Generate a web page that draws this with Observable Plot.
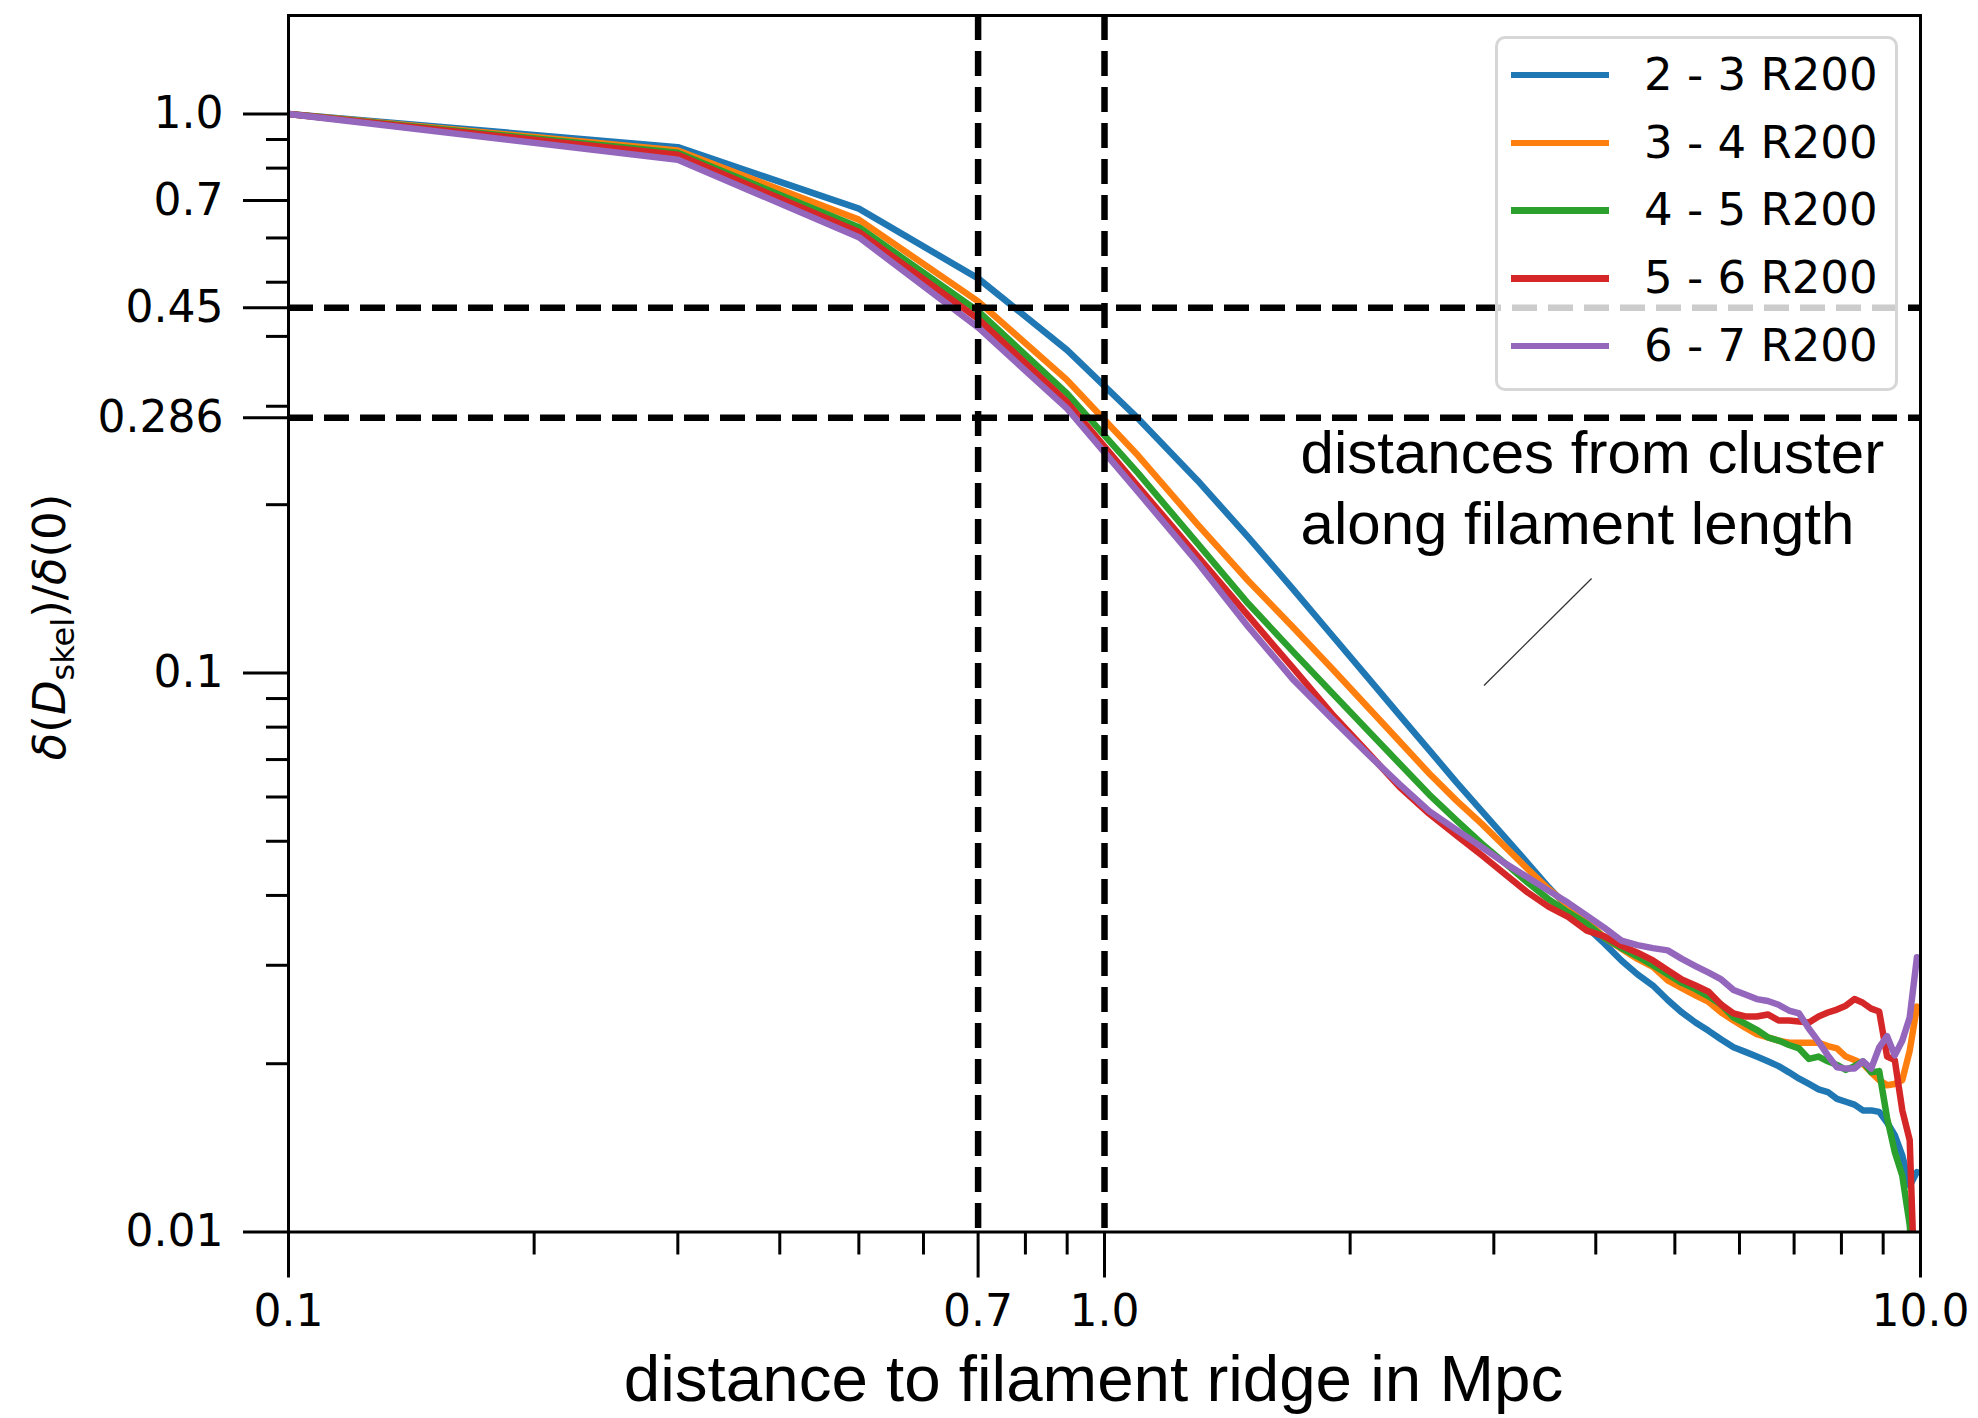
<!DOCTYPE html>
<html><head><meta charset="utf-8">
<script src="https://cdn.jsdelivr.net/npm/d3@7"></script>
<script src="https://cdn.jsdelivr.net/npm/@observablehq/plot@0.6"></script>
<style>
html,body{margin:0;padding:0;background:#fff;}
#wrap{position:relative;width:1978px;height:1418px;overflow:hidden;}
#legend{position:absolute;left:1495px;top:36px;width:403px;height:355px;box-sizing:border-box;border:3px solid #d6d6d6;border-radius:10px;background:rgba(255,255,255,0.8);font-family:"DejaVu Sans";font-size:45px;color:#000;}
.row{position:absolute;left:0;height:60px;width:100%;}
.swatch{position:absolute;left:13px;width:98px;height:6.5px;top:27px;}
.lab{position:absolute;left:146px;top:0;line-height:60px;white-space:nowrap;}
</style></head><body><div id="wrap"></div>
<script>
// ---- data ----
const distances = [0.1,0.3,0.5,0.7,0.9,1.1,1.3,1.5,1.7,1.9,2.1,2.3,2.5,2.7,2.9,3.1,3.3,3.5,3.7,3.9,4.1,4.3,4.5,4.7,4.9,5.1,5.3,5.5,5.7,5.9,6.1,6.3,6.5,6.7,6.9,7.1,7.3,7.5,7.7,7.9,8.1,8.3,8.5,8.7,8.9,9.1,9.3,9.5,9.7,9.9];
const seriesNames = ["2 - 3 R200","3 - 4 R200","4 - 5 R200","5 - 6 R200","6 - 7 R200"];
const seriesColors = ["#1f77b4","#ff7f0e","#2ca02c","#d62728","#9467bd"];
const r23 = [1.0,0.872,0.677,0.508,0.378,0.285,0.221,0.175,0.1416,0.1168,0.0983,0.0840,0.0728,0.0637,0.0566,0.0507,0.0457,0.0414,0.0380,0.0351,0.0328,0.0306,0.0289,0.0276,0.0260,0.0247,0.0237,0.0229,0.0221,0.0214,0.0210,0.0206,0.0202,0.0198,0.0193,0.0188,0.0184,0.0180,0.0178,0.0173,0.0171,0.0169,0.0165,0.0165,0.0164,0.0157,0.0149,0.0137,0.0121,0.0128];
const r34 = [1.0,0.860,0.647,0.462,0.334,0.2446,0.1845,0.1462,0.1210,0.1019,0.0870,0.0754,0.0661,0.0591,0.0537,0.0488,0.0446,0.0411,0.0384,0.0361,0.0336,0.0321,0.0308,0.0298,0.0282,0.0273,0.0265,0.0258,0.0247,0.0239,0.0232,0.0226,0.0223,0.0220,0.0218,0.0218,0.0218,0.0218,0.0215,0.0213,0.0206,0.0203,0.0200,0.0193,0.0187,0.0183,0.0184,0.0187,0.0211,0.0253];
const r45 = [1.0,0.852,0.627,0.444,0.316,0.2275,0.1705,0.1331,0.1094,0.0922,0.0791,0.0688,0.0606,0.0545,0.0495,0.0456,0.0422,0.0394,0.0373,0.0356,0.0336,0.0322,0.0311,0.0300,0.0289,0.0279,0.0272,0.0264,0.0255,0.0242,0.0236,0.0230,0.0223,0.0220,0.0216,0.0213,0.0204,0.0206,0.0202,0.0199,0.0195,0.0198,0.0202,0.0193,0.0194,0.0160,0.0139,0.0126,0.0103,0.0070];
const r56 = [1.0,0.845,0.615,0.430,0.305,0.2155,0.1618,0.1266,0.1023,0.0845,0.0722,0.0625,0.0560,0.0512,0.0472,0.0436,0.0405,0.0382,0.0366,0.0346,0.0338,0.0325,0.0316,0.0306,0.0294,0.0283,0.0276,0.0269,0.0255,0.0246,0.0243,0.0243,0.0245,0.0239,0.0239,0.0238,0.0237,0.0243,0.0247,0.0250,0.0254,0.0261,0.0257,0.0251,0.0248,0.0206,0.0203,0.0165,0.0146,0.0060];
const r67 = [1.0,0.828,0.602,0.415,0.297,0.2106,0.1576,0.121,0.0976,0.0828,0.0717,0.0632,0.0566,0.0524,0.0488,0.0456,0.0431,0.0408,0.0388,0.0368,0.0350,0.0332,0.0326,0.0322,0.0319,0.0308,0.0299,0.0291,0.0283,0.0271,0.0266,0.0261,0.0259,0.0255,0.0249,0.0246,0.0231,0.0219,0.0207,0.0197,0.0196,0.0196,0.0202,0.0196,0.0214,0.0224,0.0207,0.0220,0.0242,0.0310];

const xMajorTicks = [0.1, 0.7, 1.0, 10.0];
const xMajorLabels = ["0.1", "0.7", "1.0", "10.0"];
const xMinorTicks = [0.2,0.3,0.4,0.5,0.6,0.8,0.9,2,3,4,5,6,7,8,9];
const yMajorTicks = [1.0, 0.7, 0.45, 0.286, 0.1, 0.01];
const yMajorLabels = ["1.0", "0.7", "0.45", "0.286", "0.1", "0.01"];
const yMinorTicks = [0.9,0.8,0.6,0.5,0.4,0.3,0.2,0.09,0.08,0.07,0.06,0.05,0.04,0.03,0.02];

const hRefLines = [0.45, 0.286];
const vRefLines = [0.7, 1.0];

const xTitle = "distance to filament ridge in Mpc";
const annotation = [{x: 1.739, y: 0.1698, text: "distances from cluster\nalong filament length"}];
const pointerLine = [{x1: 2.918, y1: 0.0950, x2: 3.953, y2: 0.1476}];

// ---- build table ----
const allSeries = [r23, r34, r45, r56, r67];
const rows = [];
allSeries.forEach((vals, k) => vals.forEach((v, i) => rows.push({x: distances[i], y: v, s: seriesNames[k]})));

const chart = Plot.plot({
  width: 1978, height: 1418,
  marginLeft: 288, marginRight: 58, marginTop: 15, marginBottom: 186.5,
  x: {type: "log", domain: [0.1, 10], label: null},
  y: {type: "log", domain: [0.01, 1.5], label: null},
  color: {domain: seriesNames, range: seriesColors},
  style: {fontFamily: "DejaVu Sans", fontSize: "44px", background: "white", color: "black", overflow: "visible"},
  marks: [
    Plot.line(rows, {x: "x", y: "y", z: "s", stroke: "s", strokeWidth: 6.5, clip: true}),
    Plot.ruleY(hRefLines, {stroke: "black", strokeWidth: 6.5, strokeDasharray: "25,11"}),
    Plot.ruleX(vRefLines, {stroke: "black", strokeWidth: 6.5, strokeDasharray: "25,11"}),
    Plot.axisX(xMajorTicks, {tickSize: 46, tickPadding: 17, strokeWidth: 3, fontSize: 44, label: null,
      tickFormat: d => xMajorLabels[xMajorTicks.indexOf(d)]}),
    Plot.axisX(xMinorTicks, {tickSize: 23, strokeWidth: 3, label: null, tickFormat: () => ""}),
    Plot.axisY(yMajorTicks, {tickSize: 45, tickPadding: 20, strokeWidth: 3, fontSize: 44, label: null,
      tickFormat: d => yMajorLabels[yMajorTicks.indexOf(d)]}),
    Plot.axisY(yMinorTicks, {tickSize: 22, strokeWidth: 3, label: null, tickFormat: () => ""}),
    Plot.frame({stroke: "black", strokeWidth: 3}),
    Plot.link(pointerLine, {x1: "x1", y1: "y1", x2: "x2", y2: "y2", stroke: "#333", strokeWidth: 1.3}),
    Plot.text(annotation, {x: "x", y: "y", text: "text", textAnchor: "start", lineAnchor: "bottom",
      lineHeight: 1.183, fontSize: 60, fontFamily: "Liberation Sans"}),
    Plot.text([xTitle], {text: d => d, frameAnchor: "bottom", dx: -11, dy: 168.5, lineAnchor: "bottom",
      fontSize: 65.5, fontFamily: "Liberation Sans"})
  ]
});

const wrap = document.getElementById("wrap");
wrap.appendChild(chart);

// y label with math-style formatting
const yl = d3.select(chart).append("text")
  .attr("transform", "translate(65,627) rotate(-90)")
  .attr("text-anchor", "middle")
  .attr("font-family", "DejaVu Sans")
  .attr("font-size", 45)
  .attr("fill", "black");
yl.append("tspan").attr("font-style", "italic").text("δ");
yl.append("tspan").text("(");
yl.append("tspan").attr("font-style", "italic").text("D");
yl.append("tspan").attr("font-size", 32).attr("dy", 9).text("skel");
yl.append("tspan").attr("dy", -9).text(")/");
yl.append("tspan").attr("font-style", "italic").text("δ");
yl.append("tspan").text("(0)");

// legend
const legend = document.createElement("div");
legend.id = "legend";
const centers = [35.5, 103.6, 171, 239, 306.6];
seriesNames.forEach((name, i) => {
  const row = document.createElement("div");
  row.className = "row";
  row.style.top = (centers[i] - 30) + "px";
  const sw = document.createElement("div");
  sw.className = "swatch";
  sw.style.background = seriesColors[i];
  const lab = document.createElement("div");
  lab.className = "lab";
  lab.textContent = name;
  row.appendChild(sw); row.appendChild(lab);
  legend.appendChild(row);
});
wrap.appendChild(legend);
</script></body></html>
